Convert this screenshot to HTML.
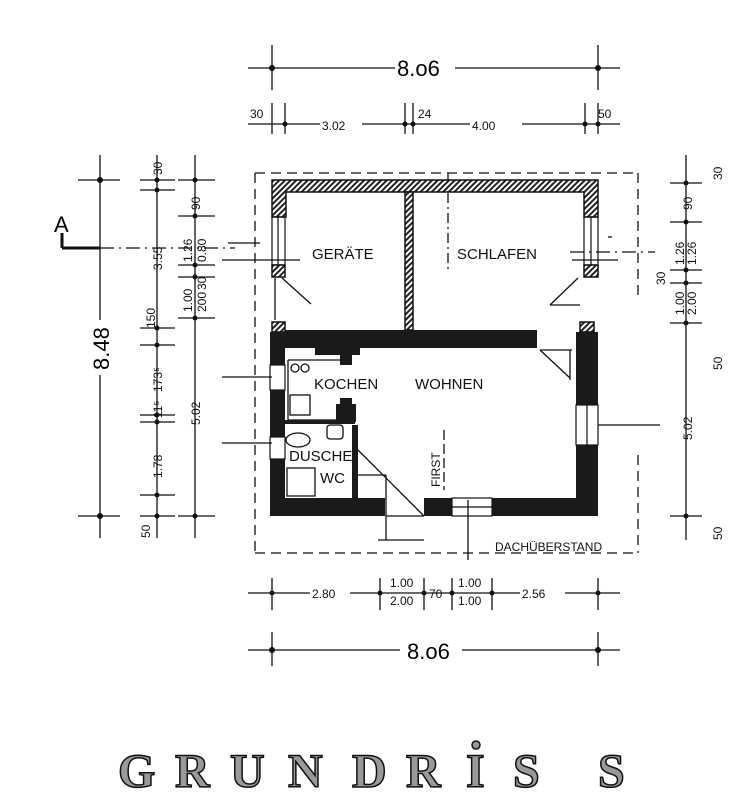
<!DOCTYPE html>
<html><head><meta charset="utf-8"><style>
body{margin:0;background:#fff;}
svg{display:block;}
.t{font-family:"Liberation Sans",sans-serif;font-size:15px;fill:#111;}
.s{font-family:"Liberation Sans",sans-serif;font-size:12px;fill:#111;}
</style></head><body>
<svg width="731" height="800" viewBox="0 0 731 800" xmlns="http://www.w3.org/2000/svg">
<defs>
<pattern id="h" width="4" height="4" patternUnits="userSpaceOnUse" patternTransform="rotate(45)">
<rect width="4" height="4" fill="#fff"/><rect width="2" height="4" fill="#222"/></pattern>
</defs>
<g stroke="#111" stroke-width="1.3" fill="none">
<!-- top dims -->
<line x1="248" y1="68" x2="395" y2="68"/><line x1="455" y1="68" x2="620" y2="68"/>
<line x1="272" y1="45" x2="272" y2="90"/><line x1="598" y1="45" x2="598" y2="90"/>
<line x1="248" y1="124" x2="320" y2="124"/><line x1="362" y1="124" x2="470" y2="124"/><line x1="522" y1="124" x2="620" y2="124"/>
<line x1="272" y1="103" x2="272" y2="134"/><line x1="285" y1="103" x2="285" y2="134"/><line x1="405" y1="103" x2="405" y2="134"/><line x1="413" y1="103" x2="413" y2="134"/><line x1="585" y1="103" x2="585" y2="134"/><line x1="598" y1="103" x2="598" y2="134"/>
<!-- left dims -->
<line x1="100" y1="155" x2="100" y2="320"/><line x1="100" y1="375" x2="100" y2="538"/>
<line x1="78" y1="180" x2="120" y2="180"/><line x1="78" y1="516" x2="120" y2="516"/>
<line x1="157" y1="155" x2="157" y2="538"/>
<line x1="140" y1="180" x2="175" y2="180"/><line x1="140" y1="190" x2="175" y2="190"/><line x1="140" y1="328" x2="175" y2="328"/><line x1="140" y1="345" x2="175" y2="345"/><line x1="140" y1="415" x2="175" y2="415"/><line x1="140" y1="422" x2="175" y2="422"/><line x1="140" y1="495" x2="175" y2="495"/><line x1="140" y1="516" x2="175" y2="516"/>
<line x1="195" y1="155" x2="195" y2="538"/>
<line x1="178" y1="180" x2="215" y2="180"/><line x1="178" y1="216" x2="215" y2="216"/><line x1="178" y1="265" x2="215" y2="265"/><line x1="178" y1="277" x2="215" y2="277"/><line x1="178" y1="318" x2="215" y2="318"/><line x1="178" y1="516" x2="215" y2="516"/>
<!-- right dims -->
<line x1="686" y1="155" x2="686" y2="540"/>
<line x1="670" y1="183" x2="702" y2="183"/><line x1="670" y1="222" x2="702" y2="222"/><line x1="670" y1="270" x2="702" y2="270"/><line x1="670" y1="283" x2="702" y2="283"/><line x1="670" y1="323" x2="702" y2="323"/><line x1="670" y1="516" x2="702" y2="516"/>
<!-- bottom dims -->
<line x1="248" y1="593" x2="310" y2="593"/><line x1="350" y1="593" x2="520" y2="593"/><line x1="565" y1="593" x2="620" y2="593"/>
<line x1="272" y1="578" x2="272" y2="610"/><line x1="380" y1="578" x2="380" y2="610"/><line x1="424" y1="578" x2="424" y2="610"/><line x1="452" y1="578" x2="452" y2="610"/><line x1="492" y1="578" x2="492" y2="610"/><line x1="598" y1="578" x2="598" y2="610"/>
<line x1="248" y1="650" x2="400" y2="650"/><line x1="462" y1="650" x2="620" y2="650"/>
<line x1="272" y1="632" x2="272" y2="666"/><line x1="598" y1="632" x2="598" y2="666"/>
<!-- roof overhang dashed -->
<g stroke-dasharray="10,6">
<line x1="255" y1="173" x2="638" y2="173"/><line x1="255" y1="173" x2="255" y2="553"/><line x1="255" y1="553" x2="638" y2="553"/>
<line x1="638" y1="173" x2="638" y2="298"/><line x1="638" y1="455" x2="638" y2="553"/>
</g>
<!-- section line A -->
<line x1="62" y1="248" x2="100" y2="248" stroke-width="3"/><line x1="62" y1="233" x2="62" y2="248" stroke-width="3"/>
<line x1="100" y1="248" x2="235" y2="248" stroke-dasharray="14,5,2,5"/>
<line x1="228" y1="243" x2="260" y2="243"/><line x1="222" y1="260" x2="300" y2="260"/>
<line x1="570" y1="252" x2="655" y2="252" stroke-dasharray="14,5,2,5"/><line x1="572" y1="260" x2="618" y2="260"/>
<!-- FIRST axis -->
<line x1="448" y1="173" x2="448" y2="270" stroke-dasharray="10,4,2,4"/>
<line x1="444" y1="430" x2="444" y2="490" stroke-dasharray="10,4"/>
<line x1="468" y1="500" x2="468" y2="560"/>
<!-- doors -->
<line x1="282" y1="278" x2="311" y2="304"/><line x1="275" y1="278" x2="275" y2="320"/>
<line x1="578" y1="278" x2="550" y2="305"/><line x1="550" y1="305" x2="580" y2="305"/>
<line x1="540" y1="350" x2="570" y2="378"/><line x1="540" y1="350" x2="572" y2="350"/><line x1="570" y1="350" x2="570" y2="380"/>
<line x1="358" y1="450" x2="424" y2="516"/>
<line x1="357" y1="475" x2="386" y2="475"/><line x1="386" y1="475" x2="386" y2="540"/><line x1="378" y1="540" x2="424" y2="540"/><line x1="386" y1="516" x2="424" y2="516"/>
<!-- windows ticks -->
<line x1="222" y1="377" x2="272" y2="377"/><line x1="222" y1="443" x2="272" y2="443"/>
<line x1="598" y1="425" x2="660" y2="425"/><line x1="608" y1="237" x2="612" y2="237"/>
<!-- kitchen fixtures -->
<line x1="288" y1="360" x2="350" y2="360"/><line x1="288" y1="360" x2="288" y2="420"/><line x1="288" y1="420" x2="355" y2="420"/>
<circle cx="295" cy="368" r="4"/><circle cx="305" cy="368" r="4"/>
<rect x="290" y="395" width="20" height="20"/>
<rect x="327" y="425" width="16" height="14" rx="3"/>
<ellipse cx="298" cy="440" rx="12" ry="7"/>
<rect x="287" y="468" width="28" height="28"/>
</g>
<g fill="#111">
<circle cx="272" cy="68" r="3"/><circle cx="598" cy="68" r="3"/>
<circle cx="285" cy="124" r="2.5"/><circle cx="405" cy="124" r="2.5"/><circle cx="413" cy="124" r="2.5"/><circle cx="585" cy="124" r="2.5"/><circle cx="598" cy="124" r="2.5"/>
<circle cx="100" cy="180" r="3"/><circle cx="100" cy="516" r="3"/>
<circle cx="157" cy="180" r="2.5"/><circle cx="157" cy="190" r="2.5"/><circle cx="157" cy="328" r="2.5"/><circle cx="157" cy="345" r="2.5"/><circle cx="157" cy="415" r="2.5"/><circle cx="157" cy="422" r="2.5"/><circle cx="157" cy="495" r="2.5"/><circle cx="157" cy="516" r="2.5"/>
<circle cx="195" cy="180" r="2.5"/><circle cx="195" cy="216" r="2.5"/><circle cx="195" cy="265" r="2.5"/><circle cx="195" cy="277" r="2.5"/><circle cx="195" cy="318" r="2.5"/><circle cx="195" cy="516" r="2.5"/>
<circle cx="686" cy="183" r="2.5"/><circle cx="686" cy="222" r="2.5"/><circle cx="686" cy="270" r="2.5"/><circle cx="686" cy="283" r="2.5"/><circle cx="686" cy="323" r="2.5"/><circle cx="686" cy="516" r="2.5"/>
<circle cx="272" cy="593" r="2.5"/><circle cx="380" cy="593" r="2.5"/><circle cx="424" cy="593" r="2.5"/><circle cx="452" cy="593" r="2.5"/><circle cx="492" cy="593" r="2.5"/><circle cx="598" cy="593" r="2.5"/>
<circle cx="272" cy="650" r="3"/><circle cx="598" cy="650" r="3"/>
</g>
<!-- upper hatched walls -->
<g stroke="#111" stroke-width="1.5" fill="url(#h)">
<path d="M272 180 H598 V217 H584 V192 H286 V217 H272 Z"/>
<rect x="405" y="192" width="8" height="138"/>
<rect x="272" y="265" width="13" height="12"/><rect x="584" y="265" width="14" height="12"/>
<rect x="272" y="322" width="13" height="10"/><rect x="580" y="322" width="14" height="10"/>
</g>
<g stroke="#111" stroke-width="1.2" fill="none">
<rect x="272" y="217" width="13" height="48"/><line x1="278" y1="217" x2="278" y2="265"/>
<rect x="584" y="217" width="14" height="48"/><line x1="591" y1="217" x2="591" y2="265"/>
<rect x="270" y="365" width="15" height="25"/><rect x="270" y="437" width="15" height="22"/>
<rect x="576" y="405" width="22" height="40"/><line x1="587" y1="405" x2="587" y2="445"/>
<rect x="452" y="498" width="40" height="18"/><line x1="452" y1="507" x2="492" y2="507"/>
</g>
<!-- lower dark walls -->
<g fill="#1a1a1a">
<rect x="270" y="332" width="15" height="33"/><rect x="270" y="390" width="15" height="47"/><rect x="270" y="459" width="15" height="57"/>
<rect x="285" y="330" width="252" height="18"/>
<rect x="315" y="345" width="45" height="10"/><rect x="340" y="345" width="12" height="20"/>
<rect x="340" y="398" width="12" height="8"/><rect x="336" y="404" width="20" height="18"/>
<rect x="352" y="425" width="6" height="90"/>
<rect x="285" y="420" width="70" height="4"/>
<rect x="270" y="498" width="115" height="18"/>
<rect x="424" y="498" width="28" height="18"/><rect x="492" y="498" width="106" height="18"/>
<rect x="576" y="332" width="22" height="73"/><rect x="576" y="445" width="22" height="71"/>
</g>
<!-- labels -->
<text class="t" x="312" y="259">GERÄTE</text>
<text class="t" x="457" y="259">SCHLAFEN</text>
<text class="t" x="314" y="389">KOCHEN</text>
<text class="t" x="415" y="389">WOHNEN</text>
<text class="t" x="289" y="461">DUSCHE</text>
<text class="t" x="320" y="483">WC</text>
<text class="s" x="0" y="0" transform="translate(440,487) rotate(-90)">FIRST</text>
<text class="s" x="495" y="551">DACHÜBERSTAND</text>
<text style="font-family:'Liberation Sans',sans-serif;font-size:22px" x="397" y="76">8.o6</text>
<text style="font-family:'Liberation Sans',sans-serif;font-size:22px" x="407" y="659">8.o6</text>
<text style="font-family:'Liberation Sans',sans-serif;font-size:22px" x="0" y="0" transform="translate(109,370) rotate(-90)">8.48</text>
<text style="font-family:'Liberation Sans',sans-serif;font-size:22px" x="54" y="232">A</text>
<text class="s" x="250" y="118">30</text><text class="s" x="322" y="130">3.02</text><text class="s" x="418" y="118">24</text><text class="s" x="472" y="130">4.00</text><text class="s" x="598" y="118">50</text>
<text class="s" x="312" y="598">2.80</text>
<text class="s" x="390" y="587">1.00</text><text class="s" x="390" y="605">2.00</text>
<text class="s" x="429" y="598">70</text>
<text class="s" x="458" y="587">1.00</text><text class="s" x="458" y="605">1.00</text>
<text class="s" x="522" y="598">2.56</text>
<g class="s">
<text class="s" transform="translate(162,175) rotate(-90)">30</text>
<text class="s" transform="translate(162,270) rotate(-90)">3.55</text>
<text class="s" transform="translate(155,328) rotate(-90)">150</text>
<text class="s" transform="translate(162,392) rotate(-90)">173⁵</text>
<text class="s" transform="translate(162,418) rotate(-90)">11⁵</text>
<text class="s" transform="translate(162,478) rotate(-90)">1.78</text>
<text class="s" transform="translate(150,538) rotate(-90)">50</text>
<text class="s" transform="translate(200,210) rotate(-90)">90</text>
<text class="s" transform="translate(192,262) rotate(-90)">1.26</text>
<text class="s" transform="translate(206,262) rotate(-90)">0.80</text>
<text class="s" transform="translate(206,290) rotate(-90)">30</text>
<text class="s" transform="translate(192,312) rotate(-90)">1.00</text>
<text class="s" transform="translate(206,312) rotate(-90)">200</text>
<text class="s" transform="translate(200,425) rotate(-90)">5.02</text>
<text class="s" transform="translate(692,210) rotate(-90)">90</text>
<text class="s" transform="translate(684,265) rotate(-90)">1.26</text>
<text class="s" transform="translate(696,265) rotate(-90)">1.26</text>
<text class="s" transform="translate(684,315) rotate(-90)">1.00</text>
<text class="s" transform="translate(696,315) rotate(-90)">2.00</text>
<text class="s" transform="translate(692,440) rotate(-90)">5.02</text>
<text class="s" transform="translate(665,285) rotate(-90)">30</text>
<text class="s" transform="translate(722,180) rotate(-90)">30</text>
<text class="s" transform="translate(722,370) rotate(-90)">50</text>
<text class="s" transform="translate(722,540) rotate(-90)">50</text>
</g>
<!-- title -->
<g style="font-family:'Liberation Serif',serif;font-weight:bold;font-size:48px" fill="#999" stroke="#111" stroke-width="1.5">
<text x="118" y="787">G</text><text x="175" y="787">R</text><text x="230" y="787">U</text><text x="288" y="787">N</text><text x="352" y="787">D</text><text x="406" y="787">R</text><text x="466" y="787">I</text><text x="513" y="787">S</text><text x="598" y="787">S</text>
</g>
<circle cx="476" cy="745" r="4" fill="#999" stroke="#111" stroke-width="1.5"/>
</svg>
</body></html>
